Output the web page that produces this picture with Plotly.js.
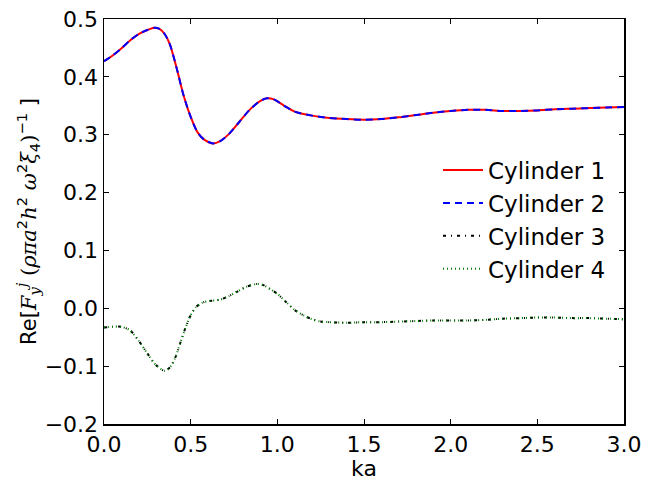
<!DOCTYPE html>
<html>
<head>
<meta charset="utf-8">
<script src="https://cdn.plot.ly/plotly-3.0.1.min.js"></script>
<style>html,body{margin:0;padding:0;background:#fff;}#chart{width:648px;height:481px;}</style>
</head>
<body>
<div id="chart"></div>
<script>
// ka values for the upper pair of curves
var kaUpper = [0.00,0.05,0.10,0.15,0.20,0.25,0.29,0.32,0.35,0.38,0.42,0.46,0.50,0.54,0.58,0.63,0.67,0.72,0.78,0.84,0.90,0.94,0.98,1.04,1.10,1.20,1.30,1.40,1.50,1.60,1.70,1.80,1.90,2.00,2.10,2.20,2.30,2.40,2.50,2.60,2.70,2.80,2.90,3.00];
var cylinder1 = [0.427,0.437,0.449,0.463,0.474,0.481,0.485,0.483,0.474,0.456,0.414,0.367,0.331,0.304,0.291,0.285,0.289,0.301,0.322,0.343,0.358,0.363,0.361,0.350,0.340,0.333,0.329,0.327,0.326,0.327,0.330,0.334,0.338,0.341,0.343,0.343,0.341,0.341,0.342,0.344,0.345,0.346,0.347,0.348];
var cylinder2 = [0.427,0.437,0.449,0.463,0.474,0.481,0.485,0.483,0.474,0.456,0.414,0.367,0.331,0.304,0.291,0.285,0.289,0.301,0.322,0.343,0.358,0.363,0.361,0.350,0.340,0.333,0.329,0.327,0.326,0.327,0.330,0.334,0.338,0.341,0.343,0.343,0.341,0.341,0.342,0.344,0.345,0.346,0.347,0.348];
// ka values for the lower pair of curves
var kaLower = [0.00,0.05,0.10,0.15,0.20,0.25,0.30,0.35,0.38,0.41,0.44,0.47,0.50,0.53,0.57,0.62,0.67,0.72,0.77,0.82,0.88,0.92,0.96,1.00,1.05,1.10,1.15,1.20,1.25,1.30,1.40,1.50,1.60,1.70,1.80,1.90,2.00,2.10,2.20,2.30,2.40,2.50,2.60,2.70,2.80,2.90,3.00];
var cylinder3 = [-0.033,-0.032,-0.032,-0.038,-0.056,-0.078,-0.098,-0.108,-0.102,-0.086,-0.060,-0.034,-0.012,0.002,0.010,0.013,0.015,0.021,0.029,0.037,0.042,0.040,0.033,0.025,0.011,-0.003,-0.012,-0.019,-0.023,-0.024,-0.025,-0.024,-0.024,-0.023,-0.022,-0.021,-0.021,-0.021,-0.020,-0.018,-0.017,-0.016,-0.016,-0.017,-0.017,-0.018,-0.019];
var cylinder4 = [-0.033,-0.032,-0.032,-0.038,-0.056,-0.078,-0.098,-0.108,-0.102,-0.086,-0.060,-0.034,-0.012,0.002,0.010,0.013,0.015,0.021,0.029,0.037,0.042,0.040,0.033,0.025,0.011,-0.003,-0.012,-0.019,-0.023,-0.024,-0.025,-0.024,-0.024,-0.023,-0.022,-0.021,-0.021,-0.021,-0.020,-0.018,-0.017,-0.016,-0.016,-0.017,-0.017,-0.018,-0.019];
var seriesNames = ["Cylinder 1","Cylinder 2","Cylinder 3","Cylinder 4"];
var xTicks = [0.0,0.5,1.0,1.5,2.0,2.5,3.0];
var xTickText = ["0.0","0.5","1.0","1.5","2.0","2.5","3.0"];
var yTicks = [-0.2,-0.1,0.0,0.1,0.2,0.3,0.4,0.5];
var yTickText = ["\u22120.2","\u22120.1","0.0","0.1","0.2","0.3","0.4","0.5"];

var traces = [
  {x: kaUpper, y: cylinder1, name: seriesNames[0], legendgroup: "g1", mode: "lines",
   line: {color: "#ff0000", width: 2, shape: "spline", smoothing: 0.8}},
  {x: kaUpper, y: cylinder2, name: seriesNames[1], legendgroup: "g2", mode: "lines",
   line: {color: "#0000ff", width: 2, dash: "7px,5px", shape: "spline", smoothing: 0.8}},
  {x: kaLower, y: cylinder3, name: seriesNames[2], legendgroup: "g3", mode: "lines",
   line: {color: "#000000", width: 2, dash: "3px,5px,1px,5px", shape: "spline", smoothing: 0.8}},
  {x: kaLower, y: cylinder4, name: seriesNames[3], legendgroup: "g4", mode: "lines",
   line: {color: "#008000", width: 2, dash: "1px,3px", shape: "spline", smoothing: 0.8}}
];

var serif = "font-family:'DejaVu Serif',serif;font-style:italic";
var yTitle = "Re[<span style=\"" + serif + "\">F</span><sub><span style=\"" + serif + "\">y</span></sub><sup><span style=\"" + serif + "\">j</span></sup> " +
  "<span style=\"font-family:'DejaVu Serif',serif\">(</span><span style=\"" + serif + "\">ρπa</span><sup>2</sup><span style=\"" + serif + "\">h</span><sup>2</sup> " +
  "<span style=\"" + serif + "\">ω</span><sup>2</sup><span style=\"" + serif + "\">ξ</span><sub>4</sub><span style=\"font-family:'DejaVu Serif',serif\">)</span><sup>−1</sup> ]";

var axisCommon = {
  showgrid: false, zeroline: false, showline: true, linecolor: "#000", linewidth: 1.5,
  mirror: "allticks", ticks: "inside", ticklen: 5, tickwidth: 1, tickcolor: "#000",
  tickfont: {family: "DejaVu Sans", size: 22, color: "#000"}
};

var layout = {
  width: 648, height: 481,
  margin: {l: 104, r: 24, t: 19, b: 57},
  paper_bgcolor: "#fff", plot_bgcolor: "#fff",
  showlegend: true,
  xaxis: Object.assign({}, axisCommon, {
    range: [0, 3], tickvals: xTicks, ticktext: xTickText,
    title: {text: "ka", font: {family: "DejaVu Sans", size: 22, color: "#000"}, standoff: 8}
  }),
  yaxis: Object.assign({}, axisCommon, {
    range: [-0.2, 0.5], tickvals: yTicks, ticktext: yTickText,
    title: {text: yTitle, font: {family: "DejaVu Sans", size: 21, color: "#000"}, standoff: 2}
  }),
  legend: {
    x: 0.975, xanchor: "right", y: 0.68, yanchor: "top",
    bgcolor: "rgba(255,255,255,0)", borderwidth: 0,
    font: {family: "DejaVu Sans", size: 23, color: "#000"},
    traceorder: "grouped", tracegroupgap: 0, itemwidth: 40
  }
};

Plotly.newPlot("chart", traces, layout, {displayModeBar: false, staticPlot: true});
</script>
</body>
</html>
